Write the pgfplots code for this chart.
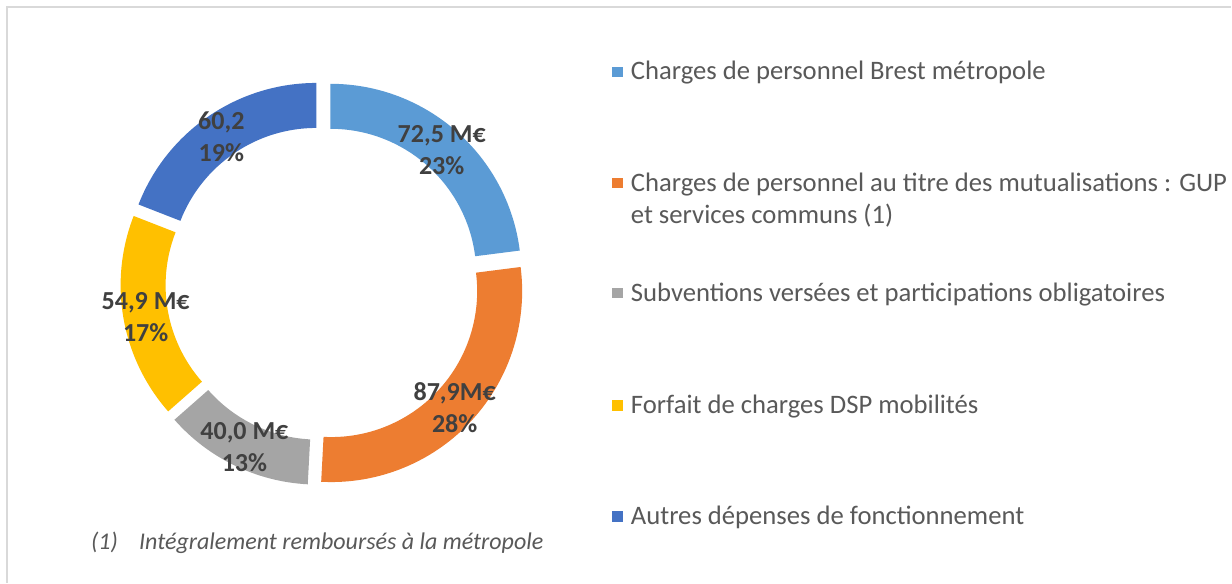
\documentclass[border=0pt]{standalone}
\usepackage{fontspec}
\setmainfont{Carlito}
\usepackage{pgfplots}
\usepackage{pgfplotstable}
\pgfplotsset{compat=1.18}
\definecolor{s0}{HTML}{5B9BD5}
\definecolor{s1}{HTML}{ED7D31}
\definecolor{s2}{HTML}{A5A5A5}
\definecolor{s3}{HTML}{FFC000}
\definecolor{s4}{HTML}{4472C4}
\definecolor{lbl}{HTML}{404040}
\definecolor{txt}{HTML}{595959}
\definecolor{frm}{HTML}{D9D9D9}

\pgfplotstableread[col sep=semicolon]{
value;label
72.5;72,5 M€
87.9;87,9M€
40.0;40,0 M€
54.9;54,9 M€
60.2;60,2
}\donut

\begin{document}
\begin{tikzpicture}
\fill[white] (0,0) rectangle (924pt,437.25pt);
\pgfmathsetmacro\tot{0}
\pgfplotsforeachungrouped \i in {0,...,4}{%
  \pgfplotstablegetelem{\i}{value}\of\donut
  \pgfmathsetmacro\tot{\tot+\pgfplotsretval}}
\begin{axis}[x=0.75pt,y=0.75pt,anchor=origin,at={(0,0)},
  xmin=0,xmax=1232,ymin=0,ymax=583,hide axis,clip=false]
% frame
\draw[frm,line width=1pt] (axis cs:7,0) -- (axis cs:7,576) -- (axis cs:1232,576);
% donut slices
\def\cum{0}
\pgfplotsforeachungrouped \i in {0,...,4}{%
  \pgfplotstablegetelem{\i}{value}\of\donut \let\v\pgfplotsretval
  \pgfplotstablegetelem{\i}{label}\of\donut \let\lab\pgfplotsretval
  \pgfmathsetmacro\aA{90-360*(\cum/\tot)}%
  \pgfmathsetmacro\cum{\cum+\v}%
  \pgfmathsetmacro\aB{90-360*(\cum/\tot)}%
  \pgfmathsetmacro\am{(\aA+\aB)/2}%
  \pgfmathsetmacro\cx{323+11.5*cos(\am)}%
  \pgfmathsetmacro\cy{299.5+11.5*sin(\am)}%
  \pgfmathsetmacro\xA{\cx+191*cos(\aA)}%
  \pgfmathsetmacro\yA{\cy+191*sin(\aA)}%
  \pgfmathsetmacro\xB{\cx+146*cos(\aB)}%
  \pgfmathsetmacro\yB{\cy+146*sin(\aB)}%
  \pgfmathsetmacro\xL{\cx+168.5*cos(\am)}%
  \pgfmathsetmacro\yL{\cy+168.5*sin(\am)-2}%
  \pgfmathtruncatemacro\pct{round(100*(\v/\tot))}%
  \edef\cmd{\noexpand\fill[s\i] (axis cs:\xA,\yA) arc[start angle=\aA, end angle=\aB, radius=143.25pt] -- (axis cs:\xB,\yB) arc[start angle=\aB, end angle=\aA, radius=109.5pt] -- cycle;
  \noexpand\node[align=center,text=lbl,font=\noexpand\bfseries\noexpand\fontsize{19.5}{24}\noexpand\selectfont,inner sep=0pt] at (axis cs:\xL,\yL) {\lab\noexpand\\\pct\noexpand\%};}%
  \cmd
}
% legend
\fill[s0] (axis cs:612.7,505.7) rectangle (axis cs:623.3,516.3);
\fill[s1] (axis cs:612.7,394.4) rectangle (axis cs:623.3,405.0);
\fill[s2] (axis cs:612.7,284.4) rectangle (axis cs:623.3,295.0);
\fill[s3] (axis cs:612.7,172.0) rectangle (axis cs:623.3,182.6);
\fill[s4] (axis cs:612.7,61.0) rectangle (axis cs:623.3,71.6);
\begin{scope}[every node/.style={anchor=base west,inner sep=0pt,text=txt,font=\fontsize{20}{24}\selectfont}]
\node at (axis cs:631,503) {Charges de personnel Brest métropole};
\node at (axis cs:631,391.3) {Charges de personnel au titre des mutualisations : GUP};
\node at (axis cs:631,359.7) {et services communs (1)};
\node at (axis cs:631,281.5) {Subventions versées et participations obligatoires};
\node at (axis cs:631,169.3) {Forfait de charges DSP mobilités};
\node at (axis cs:631,58.3) {Autres dépenses de fonctionnement};
\node[font=\itshape\fontsize{18}{22}\selectfont] at (axis cs:91,33) {(1)};
\node[font=\itshape\fontsize{18}{22}\selectfont] at (axis cs:139,33) {Intégralement remboursés à la métropole};
\end{scope}
\end{axis}
\end{tikzpicture}
\end{document}
